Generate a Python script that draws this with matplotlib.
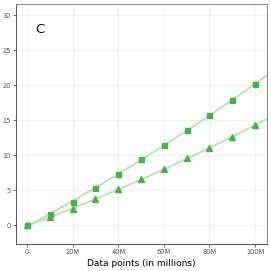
import numpy as np
import matplotlib.pyplot as plt

# Data points in millions
x_millions = [0, 10, 20, 30, 40, 50, 60, 70, 80, 90, 100]
squares = [0, 1.53, 3.33, 5.24, 7.24, 9.38, 11.43, 13.55, 15.7, 17.86, 20.1]
triangles = [0, 1.1, 2.33, 3.71, 5.1, 6.53, 8.0, 9.52, 11.05, 12.62, 14.24]

x_ticks = [0, 20, 40, 60, 80, 100]
x_tick_labels = ['0', '20M', '40M', '60M', '80M', '100M']
y_ticks = [0, 5, 10, 15, 20, 25, 30]

fig = plt.figure(figsize=(2.71, 2.71), dpi=100)
ax = fig.add_axes([16 / 271, 1 - 244 / 271, 251 / 271, 240 / 271])

# smooth fitted lines running to the panel edge
xs = np.linspace(0, 105.5, 200)
for vals in (squares, triangles):
    coef = np.polyfit(x_millions, vals, 2)
    ax.plot(xs, np.polyval(coef, xs), color='#b9e0b3', lw=1.3, zorder=2)

ax.plot(x_millions, squares, 's', color='#4daf4a', ms=3.6, zorder=3)
ax.plot(x_millions, triangles, '^', color='#4daf4a', ms=4.2, zorder=3)

ax.text(5.5, 28, 'C', fontsize=9.5, ha='center', va='center')

ax.set_xlim(-4.9, 105.3)
ax.set_ylim(-2.7, 31.6)
ax.set_xticks(x_ticks)
ax.set_xticklabels(x_tick_labels)
ax.set_yticks(y_ticks)
ax.grid(True, color='#eeeeee', lw=0.6)
ax.set_axisbelow(True)
ax.tick_params(labelsize=4.8, labelcolor='#555555', color='#555555',
               length=2, width=0.6, pad=1.5)
for side in ax.spines:
    ax.spines[side].set_color('#888888')
    ax.spines[side].set_linewidth(0.7)
ax.spines['left'].set_color('#555555')
ax.spines['bottom'].set_color('#555555')
ax.set_xlabel('Data points (in millions)', fontsize=6.5, labelpad=3)

plt.savefig('out.png', dpi=100)
